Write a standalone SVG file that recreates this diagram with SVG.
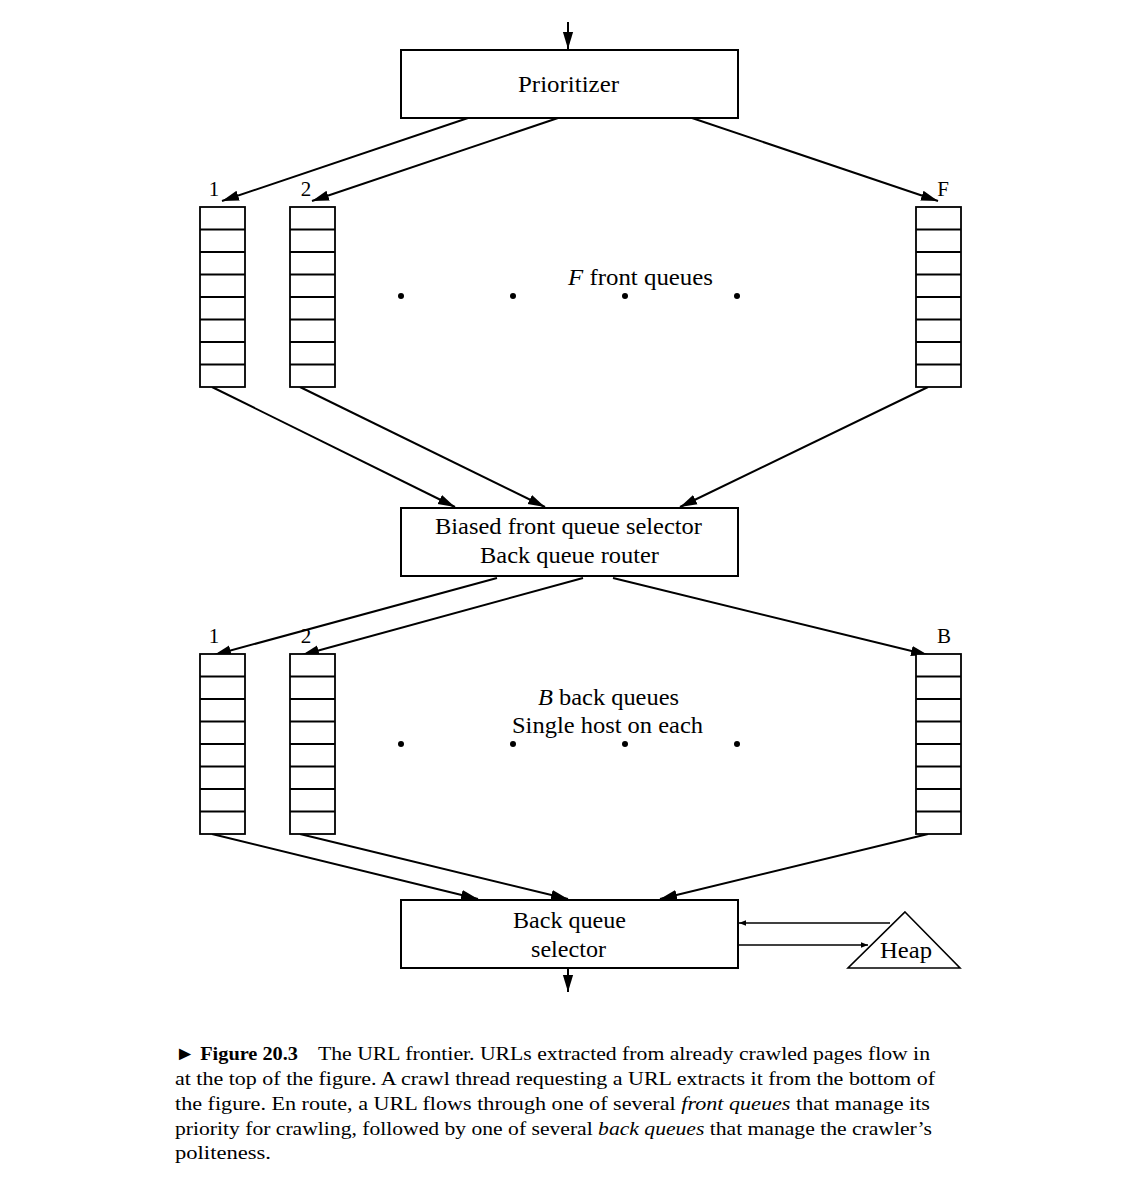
<svg xmlns="http://www.w3.org/2000/svg" width="1147" height="1200" viewBox="0 0 1147 1200">
<style>
.box{fill:#fff;stroke:#000;stroke-width:2}
.q{fill:#fff;stroke:#000;stroke-width:1.8}
.ln{stroke:#000;stroke-width:2;fill:none}
.thin{stroke:#000;stroke-width:1.4;fill:none}
text{font-family:"Liberation Serif","DejaVu Serif",serif;fill:#000}
.lbl{font-size:23px;text-anchor:middle}
.num{font-size:21px;text-anchor:middle}
.cap{font-size:19.5px}
</style>
<defs>
<marker id="as" viewBox="0 0 10 10" refX="10" refY="5" markerWidth="7" markerHeight="7" markerUnits="userSpaceOnUse" orient="auto"><path d="M0,1 L10,5 L0,9 z" fill="#000"/></marker>
<marker id="ab" viewBox="0 0 10 10" refX="10" refY="5" markerWidth="17" markerHeight="17" markerUnits="userSpaceOnUse" orient="auto"><path d="M0,2 L10,5 L0,8 z" fill="#000"/></marker>
<g id="queue">
<rect class="q" x="0" y="0" width="45" height="180"/>
<path class="q" d="M0,22.5H45M0,45H45M0,67.5H45M0,90H45M0,112.5H45M0,135H45M0,157.5H45"/>
</g>
</defs>
<g id="connectors">
<line class="ln" x1="568" y1="22" x2="568" y2="49" marker-end="url(#ab)"/>
<line class="ln" x1="468" y1="118" x2="222" y2="201" marker-end="url(#ab)"/>
<line class="ln" x1="558" y1="118" x2="312" y2="201" marker-end="url(#ab)"/>
<line class="ln" x1="692" y1="118" x2="938" y2="201" marker-end="url(#ab)"/>
<line class="ln" x1="212" y1="387" x2="455" y2="507" marker-end="url(#ab)"/>
<line class="ln" x1="300" y1="387" x2="545" y2="507" marker-end="url(#ab)"/>
<line class="ln" x1="928" y1="387" x2="680" y2="507" marker-end="url(#ab)"/>
<line class="ln" x1="497" y1="578" x2="214" y2="655" marker-end="url(#ab)"/>
<line class="ln" x1="583" y1="578" x2="302" y2="655" marker-end="url(#ab)"/>
<line class="ln" x1="613" y1="578" x2="928" y2="655" marker-end="url(#ab)"/>
<line class="ln" x1="212" y1="834" x2="478" y2="899" marker-end="url(#ab)"/>
<line class="ln" x1="300" y1="834" x2="568" y2="899" marker-end="url(#ab)"/>
<line class="ln" x1="928" y1="834" x2="660" y2="899" marker-end="url(#ab)"/>
<line class="ln" x1="568" y1="968" x2="568" y2="992" marker-end="url(#ab)"/>
<line class="thin" x1="890" y1="923" x2="739" y2="923" marker-end="url(#as)"/>
<line class="thin" x1="738" y1="945" x2="868" y2="945" marker-end="url(#as)"/>
</g>
<g id="prioritizer">
<rect class="box" x="401" y="50" width="337" height="68"/>
<text class="lbl" x="568.5" y="92" textLength="101" lengthAdjust="spacingAndGlyphs">Prioritizer</text>
</g>
<g id="front-queues">
<use href="#queue" x="200" y="207"/>
<use href="#queue" x="290" y="207"/>
<use href="#queue" x="916" y="207"/>
<text class="num" x="214" y="196">1</text>
<text class="num" x="306" y="196">2</text>
<text class="num" x="943" y="196">F</text>
<circle cx="401" cy="296" r="3"/><circle cx="513" cy="296" r="3"/><circle cx="625" cy="296" r="3"/><circle cx="737" cy="296" r="3"/>
<text class="lbl" x="640.5" y="285" textLength="145" lengthAdjust="spacingAndGlyphs"><tspan font-style="italic">F</tspan> front queues</text>
</g>
<g id="biased-selector">
<rect class="box" x="401" y="508" width="337" height="68"/>
<text class="lbl" x="568.5" y="534" textLength="267" lengthAdjust="spacingAndGlyphs">Biased front queue selector</text>
<text class="lbl" x="569.5" y="563" textLength="179" lengthAdjust="spacingAndGlyphs">Back queue router</text>
</g>
<g id="back-queues">
<use href="#queue" x="200" y="654"/>
<use href="#queue" x="290" y="654"/>
<use href="#queue" x="916" y="654"/>
<text class="num" x="214" y="643">1</text>
<text class="num" x="306" y="643">2</text>
<text class="num" x="944" y="643">B</text>
<circle cx="401" cy="744" r="3"/><circle cx="513" cy="744" r="3"/><circle cx="625" cy="744" r="3"/><circle cx="737" cy="744" r="3"/>
<text class="lbl" x="608.5" y="705" textLength="141" lengthAdjust="spacingAndGlyphs"><tspan font-style="italic">B</tspan> back queues</text>
<text class="lbl" x="607.5" y="733" textLength="191" lengthAdjust="spacingAndGlyphs">Single host on each</text>
</g>
<g id="back-selector">
<rect class="box" x="401" y="900" width="337" height="68"/>
<text class="lbl" x="569.5" y="928" textLength="113" lengthAdjust="spacingAndGlyphs">Back queue</text>
<text class="lbl" x="568.5" y="957" textLength="75" lengthAdjust="spacingAndGlyphs">selector</text>
</g>
<g id="heap">
<path class="ln" style="stroke-width:1.6;fill:#fff" d="M905,912 L960,968 L848,968 Z"/>
<text class="lbl" x="906" y="958" textLength="52" lengthAdjust="spacingAndGlyphs">Heap</text>
</g>
<g id="caption" class="cap">
<text x="175" y="1060" textLength="123" lengthAdjust="spacingAndGlyphs">► <tspan font-weight="bold">Figure 20.3</tspan></text>
<text x="318" y="1060" textLength="612" lengthAdjust="spacingAndGlyphs">The URL frontier. URLs extracted from already crawled pages flow in</text>
<text x="175" y="1085" textLength="760" lengthAdjust="spacingAndGlyphs">at the top of the figure. A crawl thread requesting a URL extracts it from the bottom of</text>
<text x="175" y="1110" textLength="755" lengthAdjust="spacingAndGlyphs">the figure. En route, a URL flows through one of several <tspan font-style="italic">front queues</tspan> that manage its</text>
<text x="175" y="1135" textLength="757" lengthAdjust="spacingAndGlyphs">priority for crawling, followed by one of several <tspan font-style="italic">back queues</tspan> that manage the crawler’s</text>
<text x="175" y="1159" textLength="96" lengthAdjust="spacingAndGlyphs">politeness.</text>
</g>
</svg>
